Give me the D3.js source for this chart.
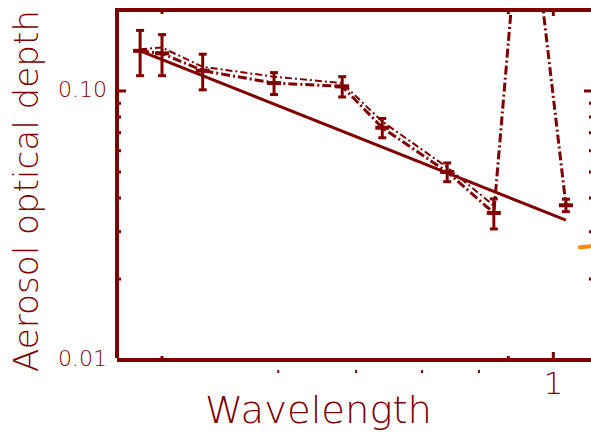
<!DOCTYPE html>
<html><head><meta charset="utf-8">
<script src="https://cdn.jsdelivr.net/npm/d3@7/dist/d3.min.js"></script>
<style>body{margin:0;background:#fff}svg{display:block}</style>
</head><body><svg id="c" width="591" height="435"></svg>
<script>
// ---- data ----
const obsLambda  = [0.38, 0.40, 0.44, 0.52, 0.61, 0.67, 0.78, 0.87, 0.935, 1.03];
const obsTau     = [0.141, 0.138, 0.119, 0.107, 0.104, 0.073, 0.050, 0.0352, 0.78, 0.0376];
const errLambda  = [0.38, 0.40, 0.44, 0.52, 0.61, 0.67, 0.78, 0.87, 1.03];
const errTau     = [0.141, 0.138, 0.119, 0.107, 0.104, 0.073, 0.050, 0.0352, 0.0376];
const errBar     = [0.027, 0.024, 0.018, 0.010, 0.009, 0.006, 0.004, 0.0045, 0.002];
const altLambda  = [0.38, 0.40, 0.44, 0.52, 0.61, 0.67, 0.78, 0.87];
const altTau     = [0.143, 0.145, 0.123, 0.113, 0.107, 0.077, 0.052, 0.0375];
const fitLambda  = [0.38, 1.03];
const fitTau     = [0.141, 0.0331];
const orangeLambda = [1.06, 1.16];
const orangeTau    = [0.0262, 0.0270];
const yMajorTicks = [0.01, 0.1];
const yTickLabels = ["0.01", "0.10"];
const yMinorTicks = [0.02,0.03,0.04,0.05,0.06,0.07,0.08,0.09];
const xMajorTicks = [1];
const xTickLabels = ["1"];
const xMinorTicks = [0.4, 0.9];
const xShiftedTicks = [0.5, 0.6, 0.7, 0.8];

// ---- layout ----
const C = "#800000";
const svg = d3.select("#c");
const x = d3.scaleLog().domain([0.36, 1.1]).range([117, 594]);
const y = d3.scaleLog().domain([0.01, 0.2]).range([360, 10]);
const X0 = x.range()[0], X1 = x.range()[1], Y0 = y.range()[0], Y1 = y.range()[1];

svg.append("clipPath").attr("id","pc").append("rect")
  .attr("x",X0).attr("y",Y1).attr("width",X1-X0).attr("height",Y0-Y1);
const g = svg.append("g").attr("clip-path","url(#pc)");
const line = d3.line().x(d=>x(d[0])).y(d=>y(d[1]));

// fit line
g.append("path").datum(d3.zip(fitLambda, fitTau)).attr("d", line)
  .attr("fill","none").attr("stroke",C).attr("stroke-width",3);
// alternate series
g.append("path").datum(d3.zip(altLambda, altTau)).attr("d", line)
  .attr("fill","none").attr("stroke",C).attr("stroke-width",2)
  .attr("stroke-dasharray","7,3,2,3");
// observed series
g.append("path").datum(d3.zip(obsLambda, obsTau)).attr("d", line)
  .attr("fill","none").attr("stroke",C).attr("stroke-width",3)
  .attr("stroke-dasharray","9,3,2,3");
// error bars + markers
const eb = g.append("g").attr("stroke",C).attr("fill","none");
errLambda.forEach((l,i)=>{
  const cx = x(l), t = errTau[i], e = errBar[i];
  const yt = y(t+e), yb = y(t-e);
  eb.append("line").attr("x1",cx).attr("x2",cx).attr("y1",yt).attr("y2",yb).attr("stroke-width",3);
  eb.append("line").attr("x1",cx-4).attr("x2",cx+4).attr("y1",yt).attr("y2",yt).attr("stroke-width",3);
  eb.append("line").attr("x1",cx-4).attr("x2",cx+4).attr("y1",yb).attr("y2",yb).attr("stroke-width",3);
  eb.append("line").attr("x1",cx-7).attr("x2",cx+7).attr("y1",y(t)).attr("y2",y(t)).attr("stroke-width",4);
});
// orange piece
svg.append("path").datum(d3.zip(orangeLambda, orangeTau)).attr("d", line)
  .attr("fill","none").attr("stroke","#ff8c00").attr("stroke-width",4);

// ---- axes frame ----
const ax = svg.append("g").attr("stroke",C).attr("stroke-width",4).attr("fill","none");
ax.append("line").attr("x1",X0).attr("x2",X0).attr("y1",Y1-2).attr("y2",Y0-2);
ax.append("line").attr("x1",X0).attr("x2",X1).attr("y1",Y0).attr("y2",Y0);
ax.append("line").attr("x1",X0-2).attr("x2",X1).attr("y1",Y1).attr("y2",Y1);
ax.append("line").attr("x1",X1).attr("x2",X1).attr("y1",Y1).attr("y2",Y0);

// y ticks (left and right)
const tk = svg.append("g").attr("stroke",C).attr("stroke-width",3);
yMajorTicks.forEach(v=>{
  tk.append("line").attr("x1",X0).attr("x2",X0+9).attr("y1",y(v)).attr("y2",y(v));
  tk.append("line").attr("x1",X1).attr("x2",X1-10).attr("y1",y(v)).attr("y2",y(v));
});
yMinorTicks.forEach(v=>{
  tk.append("line").attr("x1",X0).attr("x2",X0+4).attr("y1",y(v)).attr("y2",y(v));
  tk.append("line").attr("x1",X1).attr("x2",X1-5).attr("y1",y(v)).attr("y2",y(v));
});
// x ticks (bottom and top)
xMajorTicks.forEach(v=>{
  tk.append("line").attr("x1",x(v)).attr("x2",x(v)).attr("y1",Y0).attr("y2",Y0-8);
  tk.append("line").attr("x1",x(v)).attr("x2",x(v)).attr("y1",Y1).attr("y2",Y1+6);
});
xMinorTicks.forEach(v=>{
  tk.append("line").attr("x1",x(v)).attr("x2",x(v)).attr("y1",Y0).attr("y2",Y0-4);
  tk.append("line").attr("x1",x(v)).attr("x2",x(v)).attr("y1",Y1).attr("y2",Y1+4);
});
xShiftedTicks.forEach(v=>{
  tk.append("line").attr("x1",x(v)+21).attr("x2",x(v)+21).attr("y1",Y0+10).attr("y2",Y0+13).attr("stroke-width",2);
});

// ---- text ----
const font = "'DejaVu Sans', sans-serif";
const tx = svg.append("g").attr("fill",C).attr("font-family",font).attr("font-weight",200);
yMajorTicks.forEach((v,i)=>{
  tx.append("text").attr("x",107).attr("y",y(v)+6).attr("text-anchor","end")
    .attr("font-size",22).text(yTickLabels[i]);
});
xMajorTicks.forEach((v,i)=>{
  tx.append("text").attr("x",x(v)).attr("y",394).attr("text-anchor","middle")
    .attr("font-size",31).text(xTickLabels[i]);
});
tx.append("text").attr("x",205).attr("y",423).attr("font-size",38)
  .attr("textLength",227).attr("lengthAdjust","spacingAndGlyphs").text("Wavelength");
tx.append("text").attr("transform","translate(38,372) rotate(-90)").attr("font-size",34)
  .attr("textLength",362).attr("lengthAdjust","spacingAndGlyphs").text("Aerosol optical depth");
</script></body></html>
